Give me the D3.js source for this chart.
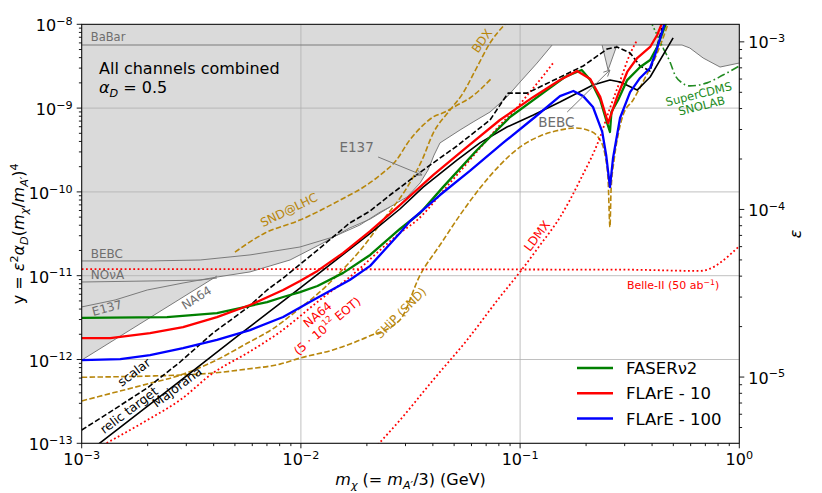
<!DOCTYPE html>
<html>
<head>
<meta charset="utf-8">
<script src="https://cdn.jsdelivr.net/npm/d3@7"></script>
<style>
  body { margin: 0; background: #fff; }
  text { font-family: "DejaVu Sans", sans-serif; white-space: pre; }
</style>
</head>
<body>
<svg id="chart" width="822" height="493"></svg>
<script>
// all curves are [m_chi (GeV), y] pairs

// excluded regions (gray)
const babar = [[1e-3,5.66e-9],[0.548,5.66e-9],[0.595,5.21e-9],[0.684,3.96e-9],[0.817,3.09e-9],[1.0,3.45e-9]];
const notch = [[0.2366,5.66e-9],[0.252,2.85e-9],[0.2768,5.66e-9]];
const e137 = [[1e-3,4.24e-12],[1.42e-3,5.13e-12],[1.99e-3,6.75e-12],[2.90e-3,8.18e-12],[4.14e-3,9.64e-12],
  [5.86e-3,1.11e-11],[8.92e-3,1.54e-11],[1.26e-2,2.45e-11],[1.67e-2,3.71e-11],[2.07e-2,4.74e-11],
  [2.55e-2,6.61e-11],[3.05e-2,8.69e-11],[3.50e-2,1.28e-10],[3.80e-2,1.82e-10],[4.05e-2,2.75e-10],
  [4.31e-2,3.84e-10],[5.32e-2,5.48e-10],[6.10e-2,6.82e-10],[7.29e-2,8.97e-10],[8.71e-2,1.36e-9],
  [0.100,2.05e-9],[0.1196,3.45e-9],[0.140,5.66e-9]];
const bebc = [[1e-3,1.50e-11],[2.05e-3,1.50e-11],[3.47e-3,1.54e-11],[5.86e-3,1.77e-11],[9.9e-3,2.20e-11],
  [1.40e-2,2.89e-11],[1.86e-2,4.03e-11],[2.30e-2,5.75e-11],[2.55e-2,6.61e-11]];
const nova = [[1e-3,8.41e-12],[2.05e-3,8.65e-12],[3.47e-3,8.87e-12],[4.14e-3,9.38e-12]];
const na64 = [[1e-3,9.84e-13],[4.14e-3,9.91e-12]];

// projections
const faser2 = [[1.0e-3,3.13e-12],[2.45e-3,3.21e-12],[4.14e-3,3.58e-12],[5.27e-3,4.11e-12],[7.01e-3,4.85e-12],
  [8.30e-3,5.57e-12],[9.91e-3,6.38e-12],[1.19e-2,7.53e-12],[1.56e-2,1.08e-11],[2.07e-2,1.77e-11],
  [2.83e-2,3.61e-11],[3.50e-2,5.60e-11],[4.45e-2,1.14e-10],[6.36e-2,3.16e-10],[9.00e-2,7.83e-10],
  [0.127,1.51e-9],[0.160,2.35e-9],[0.191,2.85e-9],[0.209,2.16e-9],[0.232,1.25e-9],[0.247,7.21e-10],
  [0.257,5.19e-10],[0.261,8.97e-10],[0.280,1.25e-9],[0.308,2.16e-9],[0.353,3.09e-9],[0.392,3.75e-9],
  [0.422,5.36e-9],[0.469,1.12e-8]];
const flare10 = [[1.0e-3,1.80e-12],[1.35e-3,1.80e-12],[2.05e-3,2.07e-12],[2.90e-3,2.44e-12],[4.14e-3,3.21e-12],
  [5.86e-3,4.47e-12],[8.30e-3,6.75e-12],[9.91e-3,8.65e-12],[1.19e-2,1.14e-11],[1.56e-2,1.87e-11],
  [2.07e-2,3.41e-11],[2.83e-2,6.97e-11],[4.01e-2,1.59e-10],[5.73e-2,3.44e-10],[8.09e-2,7.21e-10],
  [0.115,1.36e-9],[0.152,2.16e-9],[0.182,2.77e-9],[0.209,2.22e-9],[0.232,1.36e-9],[0.252,6.64e-10],
  [0.277,1.36e-9],[0.308,2.70e-9],[0.342,3.96e-9],[0.392,5.36e-9],[0.422,7.45e-9],[0.454,1.19e-8]];
const flare100 = [[1.0e-3,9.84e-13],[1.50e-3,1.01e-12],[2.05e-3,1.13e-12],[2.90e-3,1.37e-12],[4.14e-3,1.71e-12],
  [5.86e-3,2.24e-12],[8.30e-3,3.21e-12],[1.14e-2,5.13e-12],[1.67e-2,8.87e-12],[2.07e-2,1.31e-11],
  [2.83e-2,3.23e-11],[3.15e-2,4.49e-11],[4.31e-2,9.18e-11],[5.90e-2,1.78e-10],[8.36e-2,3.84e-10],
  [0.117,7.83e-10],[0.152,1.39e-9],[0.175,1.60e-9],[0.194,1.39e-9],[0.215,1.03e-9],[0.237,5.19e-10],
  [0.247,2.75e-10],[0.257,1.14e-10],[0.2655,2.54e-10],[0.2857,7.62e-10],[0.3175,1.55e-9],[0.3526,2.29e-9],
  [0.3917,3.01e-9],[0.417,4.67e-9],[0.444,8.09e-9],[0.473,1.40e-8]];

// relic targets
const majorana = [[1.1e-3,8.3e-14],[2.45e-3,4.2e-13],[5.0e-3,1.8e-12],[9.9e-3,7.1e-12],[2.07e-2,3.2e-11],
  [2.83e-2,6.25e-11],[3.61e-2,1.14e-10],[5.15e-2,2.40e-10],[6.56e-2,3.84e-10],[8.71e-2,5.94e-10],
  [0.115,8.28e-10],[0.152,1.18e-9],[0.215,1.89e-9],[0.257,2.16e-9],[0.286,2.05e-9],[0.342,1.64e-9],
  [0.392,2.35e-9],[0.499,6.87e-9]];
const scalar = [[1e-3,1.44e-13],[1.39e-3,2.49e-13],[1.99e-3,4.57e-13],[2.81e-3,9.33e-13],[3.97e-3,2.07e-12],
  [5.68e-3,4.11e-12],[7.01e-3,6.75e-12],[8.30e-3,9.38e-12],[1.19e-2,2.02e-11],[1.67e-2,4.26e-11],
  [2.07e-2,5.92e-11],[2.55e-2,9.18e-11],[3.61e-2,1.82e-10],[5.15e-2,3.53e-10],[7.29e-2,7.21e-10],
  [8.81e-2,1.51e-9],[0.1076,1.51e-9],[0.137,2.05e-9],[0.194,3.18e-9],[0.2495,5.07e-9],[0.2768,5.36e-9],
  [0.3175,4.55e-9],[0.3526,3.18e-9],[0.3917,2.77e-9],[0.417,4.93e-9],[0.444,9.04e-9]];

// other experiments (gold dashed)
const sndLHC = [[5.0e-3,1.91e-11],[6.86e-3,3.23e-11],[9.9e-3,4.61e-11],[1.51e-2,8.0e-11],[1.96e-2,1.17e-10],
  [2.42e-2,1.77e-10],[2.69e-2,2.29e-10],[3.15e-2,4.22e-10],[3.61e-2,6.25e-10],[4.01e-2,7.83e-10],
  [4.54e-2,8.97e-10],[5.15e-2,1.08e-9],[5.90e-2,1.32e-9],[7.44e-2,2.29e-9]];
const bdx = [[1e-3,3.2e-13],[1.39e-3,4.0e-13],[1.99e-3,5.1e-13],[2.81e-3,6.5e-13],[3.97e-3,9.4e-13],
  [5.68e-3,1.56e-12],[7.47e-3,2.34e-12],[9.9e-3,4.1e-12],[1.22e-2,6.4e-12],[1.51e-2,1.10e-11],
  [1.86e-2,1.99e-11],[2.37e-2,4.61e-11],[3.05e-2,1.13e-10],[3.57e-2,2.40e-10],[4.01e-2,5.0e-10],
  [4.79e-2,9.48e-10],[5.49e-2,1.51e-9],[6.36e-2,3.09e-9],[7.29e-2,5.98e-9],[8.53e-2,1.0e-8]];
const ship = [[1e-3,6.14e-13],[1.99e-3,6.34e-13],[2.81e-3,6.52e-13],[3.97e-3,6.89e-13],[5.68e-3,7.69e-13],
  [8.03e-3,8.81e-13],[9.9e-3,1.04e-12],[1.40e-2,1.30e-12],[2.0e-2,1.85e-12],[2.83e-2,2.96e-12],
  [3.50e-2,1.02e-11],[4.31e-2,2.32e-11],[5.32e-2,5.30e-11],[6.56e-2,1.11e-10],[8.09e-2,2.09e-10],
  [0.100,3.44e-10],[0.1234,4.65e-10],[0.1523,5.48e-10],[0.178,5.79e-10],[0.2086,5.33e-10],[0.2317,4.16e-10],
  [0.244,2.75e-10],[0.252,1.39e-10],[0.257,3.81e-11],[0.260,1.05e-10],[0.2684,2.40e-10],[0.280,4.78e-10],
  [0.295,8.26e-10],[0.3277,1.25e-9],[0.3715,2.29e-9],[0.413,3.96e-9],[0.449,6.87e-9],[0.483,1.19e-8]];

// red dotted
const na64Future = [[1.2e-3,9e-14],[1.99e-3,1.89e-13],[2.81e-3,3.28e-13],[3.97e-3,6.89e-13],[5.68e-3,1.19e-12],
  [8.03e-3,2.13e-12],[1.22e-2,5.13e-12],[1.67e-2,9.64e-12],[2.83e-2,3.23e-11],[3.39e-2,4.61e-11],
  [4.79e-2,1.28e-10],[7.06e-2,4.16e-10],[8.09e-2,6.28e-10],[9.29e-2,8.97e-10],[0.111,1.56e-9],
  [0.1274,2.42e-9],[0.1415,3.45e-9]];
const ldmx = [[2.11e-2,8.1e-14],[2.83e-2,1.89e-13],[4.01e-2,5.69e-13],[5.73e-2,1.71e-12],[8.09e-2,5.57e-12],
  [0.100,1.11e-11],[0.1234,2.32e-11],[0.1523,5.01e-11],[0.188,1.39e-10],[0.2317,4.52e-10],[0.257,1.0e-9],
  [0.2857,2.10e-9],[0.3175,4.43e-9],[0.342,6.50e-9]];
const belle2 = [[1e-3,1.20e-11],[0.3,1.18e-11],[0.662,1.14e-11],[1.0,2.26e-11]];

// SuperCDMS SNOLAB
const superCDMS = [[0.449,5.21e-9],[0.483,3.55e-9],[0.509,2.48e-9],[0.548,2.0e-9],[0.595,1.84e-9],
  [0.713,2.0e-9],[0.843,2.48e-9],[1.0,3.18e-9]];
const superCDMSdot = [[0.400,1.0e-8],[0.4217,7.45e-9],[0.449,5.21e-9]];

// annotation arrows [from, to]
const arrows = [
  [[2.25e-2,2.61e-10],[3.57e-2,1.59e-10]],
  [[0.164,8.97e-10],[0.257,2.85e-9]]
];

const xMajor = [1e-3, 1e-2, 1e-1, 1];
const yMajor = [1e-13, 1e-12, 1e-11, 1e-10, 1e-9, 1e-8];
const epsMajor = [1e-5, 1e-4, 1e-3];
const minorMult = [2, 3, 4, 5, 6, 7, 8, 9];

const legendItems = [
  {name: "FASERν2", color: "#008000"},
  {name: "FLArE - 10", color: "#ff0000"},
  {name: "FLArE - 100", color: "#0000ff"}
];

const alphaD = 0.5, massRatio = 1 / 3;
const epsOf = v => Math.sqrt(v / (alphaD * Math.pow(massRatio, 4)));

// ---------- drawing ----------
const svg = d3.select("#chart");
const L = 81.7, R = 739.3, T = 24.3, B = 443.3;
const x = d3.scaleLog().domain([1e-3, 1]).range([L, R]);
const y = d3.scaleLog().domain([1e-13, 1e-8]).range([B, T]);
const e = d3.scaleLog().domain([epsOf(1e-13), epsOf(1e-8)]).range([B, T]);

const GRAY = "#7a7a7a", GRAYTXT = "#6e6e6e", GOLD = "#b8860b";

svg.append("defs").append("clipPath").attr("id", "plot")
  .append("rect").attr("x", L).attr("y", T).attr("width", R - L).attr("height", B - T);

const g = svg.append("g").attr("clip-path", "url(#plot)");
const line = d3.line().x(d => x(d[0])).y(d => y(d[1]));
const smooth = d3.line().x(d => x(d[0])).y(d => y(d[1])).curve(d3.curveMonotoneX);

// shaded excluded region
const region = [[1e-3, 1e-8], [1, 1e-8]]
  .concat(babar.slice().reverse().filter(d => d[0] > 0.5))
  .concat(notch.slice().reverse())
  .concat(e137.slice().reverse().filter(d => d[0] >= 4.1e-3))
  .concat(na64.slice().reverse());
g.append("path").attr("d", line(region) + "Z").attr("fill", "#dadada").attr("stroke", "none");

// grid
g.selectAll(".gx").data(xMajor).enter().append("line")
  .attr("x1", d => x(d)).attr("x2", d => x(d)).attr("y1", T).attr("y2", B)
  .attr("stroke", "#b0b0b0").attr("stroke-width", 0.8);
g.selectAll(".gy").data(yMajor).enter().append("line")
  .attr("y1", d => y(d)).attr("y2", d => y(d)).attr("x1", L).attr("x2", R)
  .attr("stroke", "#b0b0b0").attr("stroke-width", 0.8);

function draw(data, color, width, dash, gen) {
  g.append("path").attr("d", (gen || line)(data)).attr("fill", "none")
    .attr("stroke", color).attr("stroke-width", width)
    .attr("stroke-dasharray", dash || null).attr("stroke-linejoin", "round");
}

// existing bounds
[babar, notch, e137, bebc, nova, na64].forEach(d => draw(d, GRAY, 1));

// other projections
[sndLHC, bdx, ship].forEach(d => draw(d, GOLD, 1.6, "5.5,2.4", smooth));
[na64Future, ldmx, belle2].forEach(d => draw(d, "#ff0000", 1.8, "1.8,2.5", smooth));
draw(superCDMS, "#228b22", 1.6, "8,3,1.6,3", smooth);
draw(superCDMSdot, "#228b22", 1.6, "1.8,2.5");

// relic targets
draw(scalar, "#000", 1.6, "5.5,2.4");
draw(majorana, "#000", 1.6);

// FASER / FLArE
draw(faser2, "#008000", 2.3);
draw(flare10, "#ff0000", 2.3);
draw(flare100, "#0000ff", 2.3);

// arrows
arrows.forEach(a => {
  const x0 = x(a[0][0]), y0 = y(a[0][1]), x1 = x(a[1][0]), y1 = y(a[1][1]);
  const ang = Math.atan2(y1 - y0, x1 - x0);
  g.append("line").attr("x1", x0).attr("y1", y0).attr("x2", x1).attr("y2", y1)
    .attr("stroke", GRAY).attr("stroke-width", 1);
  [-0.45, 0.45].forEach(da => {
    g.append("line").attr("x1", x1).attr("y1", y1)
      .attr("x2", x1 - 7 * Math.cos(ang + da)).attr("y2", y1 - 7 * Math.sin(ang + da))
      .attr("stroke", GRAY).attr("stroke-width", 1);
  });
});

// rich text helper: parts {t, i: italic, s: "sup"/"sub"}
function rich(sel, parts, size) {
  let cur = 0;
  parts.forEach(p => {
    const off = p.s === "sup" ? -0.4 * size : p.s === "sub" ? 0.22 * size : 0;
    const ts = sel.append("tspan").attr("dy", off - cur).text(p.t);
    if (p.s) ts.style("font-size", (0.7 * size) + "px");
    if (p.i) ts.style("font-style", "italic");
    cur = off;
  });
  return sel;
}

// plain annotations: [text, m, y, color, size, rotation, anchor]
const notes = [
  ["BaBar", 1.10e-3, 6.33e-9, GRAYTXT, 11.5, 0, "start"],
  ["BEBC", 1.10e-3, 1.63e-11, GRAYTXT, 12, 0, "start"],
  ["NOνA", 1.10e-3, 9.12e-12, GRAYTXT, 12, 0, "start"],
  ["E137", 1.13e-3, 3.30e-12, GRAYTXT, 12, -15, "start"],
  ["NA64", 2.96e-3, 3.90e-12, GRAYTXT, 12, -32, "start"],
  ["E137", 1.50e-2, 2.99e-10, GRAYTXT, 13.5, 0, "start"],
  ["BEBC", 0.121, 5.94e-10, GRAYTXT, 13.5, 0, "start"],
  ["scalar", 1.73e-3, 7.08e-13, "#000", 12.5, -37, "middle"],
  ["relic target", 1.64e-3, 2.49e-13, "#000", 12.5, -37, "middle"],
  ["Majorana", 2.72e-3, 4.70e-13, "#000", 12.5, -37, "middle"],
  ["SND@LHC", 8.83e-3, 6.08e-11, GOLD, 12, -26, "middle"],
  ["BDX", 6.70e-2, 6.33e-9, GOLD, 12, -55, "middle"],
  ["SHiP (SND)", 2.86e-2, 3.59e-12, GOLD, 12, -45, "middle"],
  ["LDMX", 0.1196, 2.98e-11, "#ff0000", 12, -53, "middle"]
];
notes.forEach(n => {
  const t = svg.append("text").text(n[0])
    .attr("transform", `translate(${x(n[1])},${y(n[2])}) rotate(${n[5]})`)
    .attr("fill", n[3]).attr("text-anchor", n[6]).style("font-size", n[4] + "px");
  if (n[6] === "middle") t.attr("dominant-baseline", "central");
});

// NA64 future label (two lines)
const na64Lab = svg.append("g")
  .attr("transform", `translate(${x(1.25e-2)},${y(2.96e-12)}) rotate(-40)`);
na64Lab.append("text").text("NA64").attr("y", -7).attr("text-anchor", "middle")
  .attr("dominant-baseline", "central").attr("fill", "#ff0000").style("font-size", "12px");
rich(na64Lab.append("text").attr("y", 8).attr("text-anchor", "middle")
  .attr("dominant-baseline", "central").attr("fill", "#ff0000").style("font-size", "12px"),
  [{t: "(5 · 10"}, {t: "12", s: "sup"}, {t: " EOT)"}], 12);

// SuperCDMS label
const cdmsLab = svg.append("g")
  .attr("transform", `translate(${x(0.663)},${y(1.25e-9)}) rotate(-14)`);
["SuperCDMS", "SNOLAB"].forEach((s, i) => {
  cdmsLab.append("text").text(s).attr("y", -6 + i * 12).attr("text-anchor", "middle")
    .attr("dominant-baseline", "central").attr("fill", "#228b22").style("font-size", "11.5px");
});

// Belle-II label
rich(svg.append("text").attr("x", x(0.307)).attr("y", y(6.93e-12))
  .attr("fill", "#ff0000").style("font-size", "11px"),
  [{t: "Belle-II (50 ab"}, {t: "\u22121", s: "sup"}, {t: ")"}], 11);

// header text
svg.append("text").attr("x", 99).attr("y", 74).style("font-size", "16px").text("All channels combined");
rich(svg.append("text").attr("x", 99).attr("y", 93).style("font-size", "16px"),
  [{t: "α", i: 1}, {t: "D", i: 1, s: "sub"}, {t: " = 0.5"}], 16);

// legend
legendItems.forEach((d, i) => {
  const ly = 368 + i * 25.3;
  svg.append("line").attr("x1", 577).attr("x2", 613).attr("y1", ly).attr("y2", ly)
    .attr("stroke", d.color).attr("stroke-width", 2.5);
  svg.append("text").attr("x", 626).attr("y", ly + 6).style("font-size", "16.5px").text(d.name);
});

// frame
svg.append("rect").attr("x", L).attr("y", T).attr("width", R - L).attr("height", B - T)
  .attr("fill", "none").attr("stroke", "#000").attr("stroke-width", 1);

// ticks
function supLabel(xp, yp, v, anchor) {
  const k = Math.round(Math.log10(v));
  rich(svg.append("text").attr("x", xp).attr("y", yp).attr("text-anchor", anchor).style("font-size", "16px"),
    [{t: "10"}, {t: k < 0 ? "\u2212" + (-k) : String(k), s: "sup"}], 16);
}
const tick = (x1, y1, x2, y2) => svg.append("line").attr("x1", x1).attr("y1", y1)
  .attr("x2", x2).attr("y2", y2).attr("stroke", "#000").attr("stroke-width", 0.9);

xMajor.forEach(v => { tick(x(v), B, x(v), B + 5); supLabel(x(v), B + 22, v, "middle"); });
xMajor.slice(0, -1).forEach(v => minorMult.forEach(m => tick(x(v * m), B, x(v * m), B + 2.8)));

yMajor.forEach(v => { tick(L, y(v), L - 5, y(v)); supLabel(L - 9, y(v) + 7, v, "end"); });
yMajor.slice(0, -1).forEach(v => minorMult.forEach(m => tick(L, y(v * m), L - 2.8, y(v * m))));

const [eLo, eHi] = e.domain();
epsMajor.forEach(v => { tick(R, e(v), R + 5, e(v)); supLabel(R + 9, e(v) + 6.5, v, "start"); });
[1e-6, 1e-5, 1e-4].forEach(v => minorMult.forEach(m => {
  const ev = v * m;
  if (ev > eLo && ev < eHi) tick(R, e(ev), R + 2.8, e(ev));
}));

// axis labels
rich(svg.append("text").attr("x", (L + R) / 2).attr("y", 485).attr("text-anchor", "middle")
  .style("font-size", "16px"),
  [{t: "m", i: 1}, {t: "χ", i: 1, s: "sub"}, {t: " (= "}, {t: "m", i: 1}, {t: "A′", i: 1, s: "sub"},
   {t: "/3) (GeV)"}], 16);

rich(svg.append("text").attr("transform", `translate(24,${(T + B) / 2}) rotate(-90)`)
  .attr("text-anchor", "middle").style("font-size", "16px"),
  [{t: "y = "}, {t: "ε", i: 1}, {t: "2", s: "sup"}, {t: "α", i: 1}, {t: "D", i: 1, s: "sub"},
   {t: "("}, {t: "m", i: 1}, {t: "χ", i: 1, s: "sub"}, {t: "/"}, {t: "m", i: 1},
   {t: "A′", i: 1, s: "sub"}, {t: ")"}, {t: "4", s: "sup"}], 16);

svg.append("text").attr("transform", `translate(801,${(T + B) / 2}) rotate(-90)`)
  .attr("text-anchor", "middle").style("font-size", "16px").style("font-style", "italic").text("ε");
</script>
</body>
</html>
